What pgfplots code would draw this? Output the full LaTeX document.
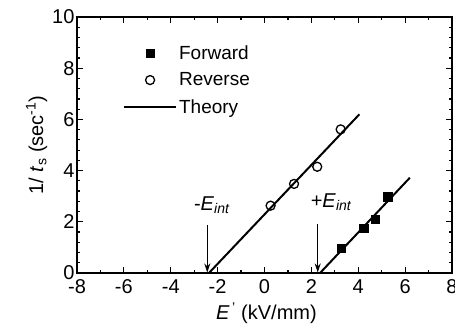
\documentclass[border=0pt]{standalone}
\usepackage{pgfplots}
\pgfplotsset{compat=1.18}
\usepackage{fontspec}
\setmainfont{Liberation Sans}
\usetikzlibrary{arrows.meta}
\begin{document}
\begin{tikzpicture}
\begin{axis}[
  scale only axis, width=375pt, height=256pt,
  at={(0,0)}, anchor=south west,
  xmin=-8, xmax=8, ymin=0, ymax=10,
  xtick={-8,-6,...,8}, ytick={0,2,...,10},
  minor x tick num=1, minor y tick num=4,
  tick align=inside, major tick length=6pt, minor tick length=3.5pt,
  every tick/.style={line width=1.2pt, black},
  axis line style={line width=1.6pt},
  /pgf/number format/assume math mode=true,
  ticklabel style={font=\fontsize{20}{22}\selectfont},
  xticklabel style={yshift=-3pt},
  yticklabel style={xshift=1pt},
  xlabel={\textit{E}\textsuperscript{\,'} (kV/mm)},
  ylabel={1/ \textit{t}\textsubscript{s} (sec\textsuperscript{-1})},
  label style={font=\fontsize{20}{22}\selectfont},
  xlabel style={yshift=-2pt, xshift=2pt},
  ylabel style={yshift=-2pt},
  legend cell align=left,
  legend style={draw=none, fill=none, font=\fontsize{19}{21}\selectfont,
    at={(axis cs:-6.17,9.05)}, anchor=north west, row sep=8pt,
    /tikz/every even column/.append style={column sep=2pt}},
  legend image code/.code={\draw[mark repeat=2,mark phase=2,#1] plot coordinates {(0pt,0pt) (26pt,0pt) (52pt,0pt)};},
]
\addplot[only marks, mark=square*, mark size=4.2pt, black] coordinates {
 (3.26,0.96) (4.24,1.76) (4.73,2.11) (5.25,2.98)};
\addlegendentry{Forward}
\addplot[only marks, mark=o, mark size=4.5pt, black, line width=1.3pt] coordinates {
 (0.26,2.63) (1.26,3.48) (2.25,4.15) (3.25,5.61)};
\addlegendentry{Reverse}
\addplot[black, line width=2pt] coordinates {(-2.37,0) (4.05,6.2)};
\addlegendentry{Theory}
\addplot[black, line width=2pt, forget plot] coordinates {(2.37,0) (6.2,3.72)};
\draw[-{Stealth[length=9pt,width=6pt]}, line width=1.3pt] (axis cs:-2.44,1.88) -- (axis cs:-2.44,0.02);
\draw[-{Stealth[length=9pt,width=6pt]}, line width=1.3pt] (axis cs:2.27,1.90) -- (axis cs:2.27,0.02);
\node[font=\fontsize{20}{22}\selectfont] at (axis cs:-2.24,2.66) {-\textit{E}\textsubscript{\textit{int}}};
\node[font=\fontsize{20}{22}\selectfont] at (axis cs:2.85,2.77) {+\textit{E}\textsubscript{\textit{int}}};
\end{axis}
\pgfresetboundingbox
\useasboundingbox (-77pt,-51pt) rectangle (378pt,273pt);
\end{tikzpicture}
\end{document}
